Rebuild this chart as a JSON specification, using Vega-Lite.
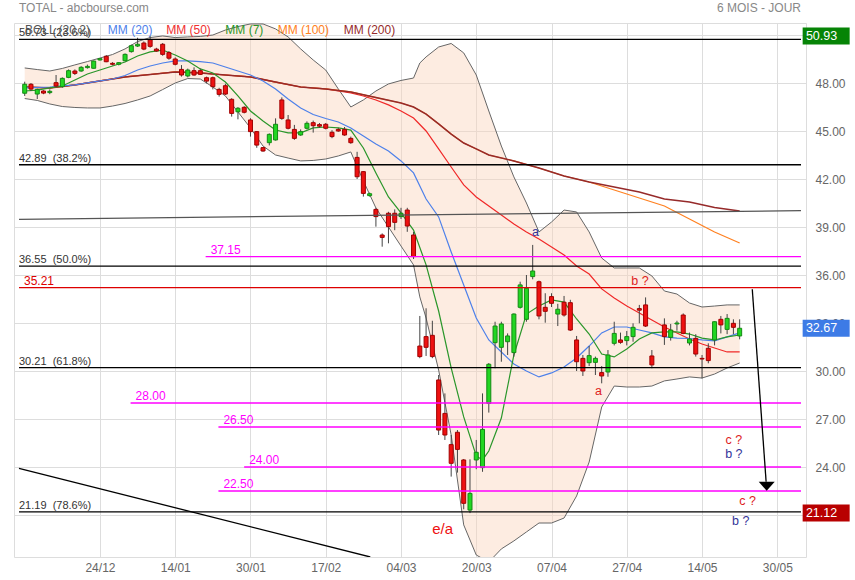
{
"$schema":"https://vega.github.io/schema/vega-lite/v6.json",
"width":792,"height":534,
"autosize":{"type":"none"},
"padding":{"left":14,"top":23,"right":49,"bottom":23},
"background":"white",
"config":{"view":{"stroke":"#dddddd","strokeWidth":1},
"axis":{"gridColor":"#dddddd","gridWidth":1,"domain":false,"ticks":false,"labelFont":"Liberation Sans","labelFontSize":12,"labelColor":"#666666"},
"text":{"font":"Liberation Sans"}},
"datasets":{
"bb":[{"i":-12,"up":48.94,"lo":47.03},{"i":-10,"up":48.84,"lo":46.91},{"i":-8,"up":48.75,"lo":46.69},{"i":-6,"up":48.91,"lo":46.53},{"i":-4,"up":49.13,"lo":46.47},{"i":-2,"up":49.34,"lo":46.44},{"i":0,"up":49.56,"lo":46.44},{"i":2,"up":49.78,"lo":46.56},{"i":4,"up":50.13,"lo":46.72},{"i":6,"up":50.59,"lo":46.94},{"i":8,"up":50.84,"lo":47.19},{"i":10,"up":50.94,"lo":47.59},{"i":12,"up":50.84,"lo":48.0},{"i":14,"up":50.88,"lo":48.28},{"i":16,"up":50.91,"lo":48.25},{"i":18,"up":51.0,"lo":47.75},{"i":20,"up":51.31,"lo":47.19},{"i":22,"up":51.53,"lo":46.19},{"i":24,"up":51.69,"lo":45.19},{"i":26,"up":51.69,"lo":44.06},{"i":28,"up":51.38,"lo":43.5},{"i":30,"up":50.88,"lo":43.31},{"i":32,"up":50.13,"lo":43.13},{"i":34,"up":49.44,"lo":43.16},{"i":36,"up":48.81,"lo":43.25},{"i":38,"up":47.63,"lo":43.44},{"i":40,"up":46.5,"lo":43.69},{"i":42,"up":46.94,"lo":41.88},{"i":44,"up":47.5,"lo":40.19},{"i":46,"up":47.94,"lo":39.0},{"i":48,"up":48.16,"lo":37.81},{"i":50,"up":48.31,"lo":36.63},{"i":51,"up":49.25,"lo":34.63},{"i":52,"up":49.63,"lo":33.31},{"i":54,"up":50.25,"lo":30.06},{"i":56,"up":50.47,"lo":26.0},{"i":58,"up":49.88,"lo":20.38},{"i":60,"up":48.5,"lo":18.5},{"i":62,"up":46.25,"lo":18.06},{"i":64,"up":44.06,"lo":18.88},{"i":66,"up":42.13,"lo":19.38},{"i":68,"up":40.5,"lo":19.94},{"i":70,"up":38.69,"lo":20.5},{"i":72,"up":39.31,"lo":20.5},{"i":74,"up":40.06,"lo":20.81},{"i":76,"up":39.94,"lo":22.19},{"i":78,"up":38.69,"lo":24.31},{"i":80,"up":37.06,"lo":27.75},{"i":82,"up":36.44,"lo":29.06},{"i":84,"up":36.44,"lo":29.0},{"i":86,"up":36.44,"lo":29.0},{"i":88,"up":35.94,"lo":29.06},{"i":90,"up":35.0,"lo":29.38},{"i":92,"up":34.81,"lo":29.5},{"i":94,"up":34.25,"lo":29.63},{"i":96,"up":34.0,"lo":29.56},{"i":98,"up":34.06,"lo":29.81},{"i":100,"up":34.13,"lo":30.19},{"i":102,"up":34.13,"lo":30.5}],
"ma":[
{"g":"mm20","i":-12,"v":47.69},{"g":"mm20","i":-8,"v":47.75},{"g":"mm20","i":-4,"v":47.88},{"g":"mm20","i":0,"v":48.13},{"g":"mm20","i":2,"v":48.25},{"g":"mm20","i":4,"v":48.47},{"g":"mm20","i":6,"v":48.81},{"g":"mm20","i":8,"v":49.06},{"g":"mm20","i":10,"v":49.25},{"g":"mm20","i":12,"v":49.38},{"g":"mm20","i":14,"v":49.38},{"g":"mm20","i":16,"v":49.34},{"g":"mm20","i":18,"v":49.25},{"g":"mm20","i":20,"v":49.0},{"g":"mm20","i":22,"v":48.75},{"g":"mm20","i":24,"v":48.5},{"g":"mm20","i":26,"v":48.13},{"g":"mm20","i":28,"v":47.63},{"g":"mm20","i":30,"v":47.0},{"g":"mm20","i":32,"v":46.44},{"g":"mm20","i":34,"v":46.03},{"g":"mm20","i":36,"v":45.78},{"g":"mm20","i":38,"v":45.56},{"g":"mm20","i":40,"v":45.19},{"g":"mm20","i":42,"v":44.69},{"g":"mm20","i":44,"v":44.19},{"g":"mm20","i":46,"v":43.75},{"g":"mm20","i":48,"v":43.13},{"g":"mm20","i":50,"v":42.38},{"g":"mm20","i":52,"v":40.75},{"g":"mm20","i":54,"v":39.63},{"g":"mm20","i":56,"v":37.44},{"g":"mm20","i":58,"v":35.38},{"g":"mm20","i":60,"v":33.31},{"g":"mm20","i":62,"v":31.94},{"g":"mm20","i":64,"v":31.19},{"g":"mm20","i":66,"v":30.44},{"g":"mm20","i":68,"v":30.0},{"g":"mm20","i":70,"v":29.63},{"g":"mm20","i":72,"v":29.88},{"g":"mm20","i":74,"v":30.25},{"g":"mm20","i":76,"v":30.81},{"g":"mm20","i":78,"v":31.56},{"g":"mm20","i":80,"v":32.38},{"g":"mm20","i":82,"v":32.75},{"g":"mm20","i":84,"v":32.75},{"g":"mm20","i":86,"v":32.56},{"g":"mm20","i":88,"v":32.38},{"g":"mm20","i":90,"v":32.13},{"g":"mm20","i":92,"v":32.06},{"g":"mm20","i":94,"v":32.03},{"g":"mm20","i":96,"v":31.94},{"g":"mm20","i":98,"v":31.88},{"g":"mm20","i":100,"v":32.13},{"g":"mm20","i":102,"v":32.38},
{"g":"mm7","i":-12,"v":47.5},{"g":"mm7","i":-10,"v":47.56},{"g":"mm7","i":-8,"v":47.69},{"g":"mm7","i":-6,"v":47.81},{"g":"mm7","i":-4,"v":48.19},{"g":"mm7","i":-2,"v":48.56},{"g":"mm7","i":0,"v":48.81},{"g":"mm7","i":2,"v":49.06},{"g":"mm7","i":4,"v":49.31},{"g":"mm7","i":6,"v":49.69},{"g":"mm7","i":8,"v":49.94},{"g":"mm7","i":10,"v":50.06},{"g":"mm7","i":12,"v":49.75},{"g":"mm7","i":14,"v":49.38},{"g":"mm7","i":16,"v":48.88},{"g":"mm7","i":18,"v":48.63},{"g":"mm7","i":20,"v":48.06},{"g":"mm7","i":22,"v":47.19},{"g":"mm7","i":24,"v":46.25},{"g":"mm7","i":26,"v":45.63},{"g":"mm7","i":28,"v":45.06},{"g":"mm7","i":30,"v":44.88},{"g":"mm7","i":32,"v":44.88},{"g":"mm7","i":34,"v":45.19},{"g":"mm7","i":36,"v":45.25},{"g":"mm7","i":38,"v":45.19},{"g":"mm7","i":40,"v":45.06},{"g":"mm7","i":42,"v":43.94},{"g":"mm7","i":44,"v":42.38},{"g":"mm7","i":46,"v":40.88},{"g":"mm7","i":48,"v":39.88},{"g":"mm7","i":50,"v":38.81},{"g":"mm7","i":52,"v":36.63},{"g":"mm7","i":54,"v":33.75},{"g":"mm7","i":56,"v":30.19},{"g":"mm7","i":58,"v":27.13},{"g":"mm7","i":60,"v":24.69},{"g":"mm7","i":61,"v":24.44},{"g":"mm7","i":62,"v":25.0},{"g":"mm7","i":64,"v":27.06},{"g":"mm7","i":66,"v":31.0},{"g":"mm7","i":68,"v":33.56},{"g":"mm7","i":70,"v":34.06},{"g":"mm7","i":72,"v":34.44},{"g":"mm7","i":74,"v":34.31},{"g":"mm7","i":76,"v":33.25},{"g":"mm7","i":78,"v":32.31},{"g":"mm7","i":80,"v":31.06},{"g":"mm7","i":82,"v":30.88},{"g":"mm7","i":84,"v":31.38},{"g":"mm7","i":86,"v":32.0},{"g":"mm7","i":88,"v":32.38},{"g":"mm7","i":90,"v":32.44},{"g":"mm7","i":92,"v":32.44},{"g":"mm7","i":94,"v":32.31},{"g":"mm7","i":96,"v":32.06},{"g":"mm7","i":98,"v":31.94},{"g":"mm7","i":100,"v":32.13},{"g":"mm7","i":102,"v":32.25},
{"g":"mm200","i":-12,"v":47.75},{"g":"mm200","i":-8,"v":47.69},{"g":"mm200","i":-4,"v":47.88},{"g":"mm200","i":0,"v":48.13},{"g":"mm200","i":4,"v":48.38},{"g":"mm200","i":8,"v":48.53},{"g":"mm200","i":12,"v":48.69},{"g":"mm200","i":16,"v":48.63},{"g":"mm200","i":20,"v":48.5},{"g":"mm200","i":24,"v":48.38},{"g":"mm200","i":28,"v":48.06},{"g":"mm200","i":32,"v":47.75},{"g":"mm200","i":36,"v":47.63},{"g":"mm200","i":40,"v":47.44},{"g":"mm200","i":44,"v":47.09},{"g":"mm200","i":48,"v":46.75},{"g":"mm200","i":50,"v":46.5},{"g":"mm200","i":52,"v":46.06},{"g":"mm200","i":54,"v":45.44},{"g":"mm200","i":56,"v":44.81},{"g":"mm200","i":58,"v":44.25},{"g":"mm200","i":60,"v":43.88},{"g":"mm200","i":62,"v":43.5},{"g":"mm200","i":66,"v":43.13},{"g":"mm200","i":70,"v":42.69},{"g":"mm200","i":74,"v":42.19},{"g":"mm200","i":78,"v":41.81},{"g":"mm200","i":82,"v":41.5},{"g":"mm200","i":86,"v":41.19},{"g":"mm200","i":90,"v":40.75},{"g":"mm200","i":94,"v":40.56},{"g":"mm200","i":98,"v":40.22},{"g":"mm200","i":102,"v":40.0},
{"g":"mm100","i":-12,"v":47.75},{"g":"mm100","i":-8,"v":47.69},{"g":"mm100","i":-4,"v":47.88},{"g":"mm100","i":0,"v":48.13},{"g":"mm100","i":4,"v":48.38},{"g":"mm100","i":8,"v":48.53},{"g":"mm100","i":12,"v":48.69},{"g":"mm100","i":16,"v":48.63},{"g":"mm100","i":20,"v":48.5},{"g":"mm100","i":24,"v":48.38},{"g":"mm100","i":28,"v":48.06},{"g":"mm100","i":32,"v":47.75},{"g":"mm100","i":36,"v":47.63},{"g":"mm100","i":40,"v":47.44},{"g":"mm100","i":44,"v":47.09},{"g":"mm100","i":48,"v":46.75},{"g":"mm100","i":50,"v":46.5},{"g":"mm100","i":52,"v":46.06},{"g":"mm100","i":54,"v":45.44},{"g":"mm100","i":56,"v":44.81},{"g":"mm100","i":58,"v":44.25},{"g":"mm100","i":60,"v":43.88},{"g":"mm100","i":62,"v":43.5},{"g":"mm100","i":66,"v":43.13},{"g":"mm100","i":70,"v":42.69},{"g":"mm100","i":74,"v":42.19},{"g":"mm100","i":78,"v":41.81},{"g":"mm100","i":82,"v":41.31},{"g":"mm100","i":86,"v":40.81},{"g":"mm100","i":90,"v":40.31},{"g":"mm100","i":94,"v":39.5},{"g":"mm100","i":98,"v":38.69},{"g":"mm100","i":102,"v":38.0},
{"g":"mm50","i":-12,"v":47.75},{"g":"mm50","i":-8,"v":47.69},{"g":"mm50","i":-4,"v":47.88},{"g":"mm50","i":0,"v":48.13},{"g":"mm50","i":4,"v":48.38},{"g":"mm50","i":8,"v":48.53},{"g":"mm50","i":12,"v":48.69},{"g":"mm50","i":16,"v":48.63},{"g":"mm50","i":20,"v":48.5},{"g":"mm50","i":24,"v":48.38},{"g":"mm50","i":28,"v":48.06},{"g":"mm50","i":32,"v":47.75},{"g":"mm50","i":36,"v":47.63},{"g":"mm50","i":38,"v":47.5},{"g":"mm50","i":40,"v":47.38},{"g":"mm50","i":42,"v":47.19},{"g":"mm50","i":44,"v":46.94},{"g":"mm50","i":46,"v":46.63},{"g":"mm50","i":48,"v":46.25},{"g":"mm50","i":50,"v":45.81},{"g":"mm50","i":52,"v":45.0},{"g":"mm50","i":54,"v":43.88},{"g":"mm50","i":56,"v":42.75},{"g":"mm50","i":58,"v":41.63},{"g":"mm50","i":60,"v":40.88},{"g":"mm50","i":62,"v":40.31},{"g":"mm50","i":64,"v":39.75},{"g":"mm50","i":66,"v":39.19},{"g":"mm50","i":68,"v":38.69},{"g":"mm50","i":70,"v":38.25},{"g":"mm50","i":72,"v":37.75},{"g":"mm50","i":74,"v":37.25},{"g":"mm50","i":76,"v":36.56},{"g":"mm50","i":78,"v":36.06},{"g":"mm50","i":80,"v":35.13},{"g":"mm50","i":82,"v":34.56},{"g":"mm50","i":84,"v":34.06},{"g":"mm50","i":86,"v":33.63},{"g":"mm50","i":88,"v":33.19},{"g":"mm50","i":90,"v":32.75},{"g":"mm50","i":92,"v":32.38},{"g":"mm50","i":94,"v":32.0},{"g":"mm50","i":96,"v":31.69},{"g":"mm50","i":98,"v":31.44},{"g":"mm50","i":100,"v":31.19},{"g":"mm50","i":102,"v":31.19}],
"cd":[{"i":-12,"o":47.36,"h":48.08,"l":47.19,"c":47.92},{"i":-11,"o":47.92,"h":48.0,"l":47.5,"c":47.62},{"i":-10,"o":47.31,"h":47.65,"l":47.0,"c":47.6},{"i":-9,"o":47.5,"h":47.55,"l":47.3,"c":47.37},{"i":-8,"o":47.4,"h":47.6,"l":47.3,"c":47.48},{"i":-7,"o":48.02,"h":48.5,"l":47.75,"c":47.81},{"i":-6,"o":47.77,"h":48.35,"l":47.7,"c":48.29},{"i":-5,"o":48.35,"h":48.85,"l":48.3,"c":48.77},{"i":-4,"o":48.75,"h":48.85,"l":48.5,"c":48.6},{"i":-3,"o":48.75,"h":49.05,"l":48.7,"c":48.98},{"i":-2,"o":48.96,"h":49.15,"l":48.9,"c":49.04},{"i":-1,"o":48.92,"h":49.4,"l":48.9,"c":49.37},{"i":0,"o":49.44,"h":49.55,"l":49.4,"c":49.52},{"i":1,"o":49.67,"h":49.75,"l":49.3,"c":49.33},{"i":2,"o":49.23,"h":49.3,"l":49.1,"c":49.17},{"i":3,"o":49.17,"h":49.3,"l":49.1,"c":49.27},{"i":4,"o":49.39,"h":49.85,"l":49.35,"c":49.79},{"i":5,"o":49.96,"h":50.4,"l":49.9,"c":50.33},{"i":6,"o":50.31,"h":50.83,"l":50.25,"c":50.42},{"i":7,"o":50.5,"h":50.6,"l":50.05,"c":50.12},{"i":8,"o":50.71,"h":50.93,"l":50.2,"c":50.29},{"i":9,"o":50.12,"h":50.2,"l":49.95,"c":50.0},{"i":10,"o":50.42,"h":50.5,"l":49.7,"c":49.79},{"i":11,"o":49.9,"h":50.0,"l":49.45,"c":49.55},{"i":12,"o":49.5,"h":49.6,"l":49.1,"c":49.17},{"i":13,"o":48.85,"h":49.12,"l":48.4,"c":48.5},{"i":14,"o":48.44,"h":48.9,"l":48.35,"c":48.81},{"i":15,"o":48.77,"h":48.98,"l":48.45,"c":48.5},{"i":16,"o":48.77,"h":48.9,"l":48.5,"c":48.54},{"i":17,"o":48.33,"h":48.4,"l":47.98,"c":48.12},{"i":18,"o":48.33,"h":48.4,"l":47.6,"c":47.77},{"i":19,"o":47.6,"h":47.7,"l":47.15,"c":47.29},{"i":20,"o":47.83,"h":47.95,"l":47.25,"c":47.31},{"i":21,"o":46.98,"h":47.05,"l":45.9,"c":46.1},{"i":22,"o":46.2,"h":46.5,"l":45.73,"c":46.42},{"i":23,"o":46.48,"h":46.55,"l":46.1,"c":46.17},{"i":24,"o":45.69,"h":45.8,"l":44.65,"c":44.96},{"i":25,"o":44.96,"h":45.0,"l":43.95,"c":44.12},{"i":26,"o":43.96,"h":44.0,"l":43.7,"c":43.75},{"i":27,"o":44.27,"h":44.85,"l":44.1,"c":44.79},{"i":28,"o":44.44,"h":45.79,"l":44.4,"c":45.42},{"i":29,"o":46.94,"h":47.1,"l":45.7,"c":45.79},{"i":30,"o":45.69,"h":46.0,"l":45.1,"c":45.17},{"i":31,"o":45.1,"h":45.38,"l":44.45,"c":44.54},{"i":32,"o":44.75,"h":45.1,"l":44.7,"c":44.96},{"i":33,"o":45.17,"h":45.6,"l":45.1,"c":45.48},{"i":34,"o":45.52,"h":45.65,"l":44.9,"c":45.33},{"i":35,"o":45.4,"h":45.5,"l":45.2,"c":45.3},{"i":36,"o":45.42,"h":45.5,"l":45.1,"c":45.17},{"i":37,"o":44.92,"h":45.05,"l":44.55,"c":44.65},{"i":38,"o":45.1,"h":45.2,"l":44.95,"c":45.0},{"i":39,"o":45.1,"h":45.25,"l":44.7,"c":44.75},{"i":40,"o":44.54,"h":44.65,"l":44.2,"c":44.27},{"i":41,"o":43.35,"h":43.7,"l":42.0,"c":42.14},{"i":42,"o":42.46,"h":42.5,"l":40.9,"c":41.1},{"i":43,"o":40.96,"h":41.15,"l":40.9,"c":41.08},{"i":44,"o":40.1,"h":40.2,"l":39.02,"c":39.65},{"i":45,"o":38.5,"h":38.6,"l":37.77,"c":38.35},{"i":46,"o":39.86,"h":39.95,"l":37.98,"c":39.02},{"i":47,"o":39.86,"h":40.1,"l":38.8,"c":39.29},{"i":48,"o":39.65,"h":40.2,"l":39.5,"c":39.86},{"i":49,"o":40.06,"h":40.2,"l":38.7,"c":39.06},{"i":50,"o":38.5,"h":38.7,"l":37.0,"c":37.15},{"i":51,"o":31.56,"h":33.44,"l":30.8,"c":30.9},{"i":52,"o":32.15,"h":33.92,"l":30.94,"c":31.48},{"i":53,"o":32.23,"h":33.14,"l":30.8,"c":30.9},{"i":54,"o":29.44,"h":29.75,"l":26.0,"c":26.31},{"i":55,"o":27.35,"h":28.6,"l":25.69,"c":26.0},{"i":56,"o":25.4,"h":26.0,"l":23.4,"c":24.23},{"i":57,"o":26.17,"h":26.31,"l":23.65,"c":25.1},{"i":58,"o":24.44,"h":24.5,"l":21.36,"c":21.73},{"i":59,"o":21.31,"h":24.48,"l":21.12,"c":22.35},{"i":60,"o":24.44,"h":25.69,"l":23.86,"c":24.92},{"i":61,"o":23.96,"h":28.6,"l":23.7,"c":26.35},{"i":62,"o":27.98,"h":30.5,"l":27.4,"c":30.42},{"i":63,"o":31.77,"h":33.08,"l":30.17,"c":32.81},{"i":64,"o":31.48,"h":33.08,"l":30.58,"c":32.94},{"i":65,"o":31.83,"h":32.35,"l":31.0,"c":32.19},{"i":66,"o":31.15,"h":33.6,"l":30.9,"c":33.56},{"i":67,"o":33.98,"h":35.58,"l":33.9,"c":35.38},{"i":68,"o":33.23,"h":36.0,"l":33.08,"c":35.17},{"i":69,"o":35.9,"h":37.88,"l":35.73,"c":36.25},{"i":70,"o":35.58,"h":35.65,"l":33.23,"c":33.44},{"i":71,"o":33.98,"h":34.86,"l":33.02,"c":33.73},{"i":72,"o":34.65,"h":34.86,"l":34.0,"c":34.23},{"i":73,"o":33.56,"h":34.2,"l":32.81,"c":33.86},{"i":74,"o":34.3,"h":34.69,"l":33.4,"c":33.5},{"i":75,"o":34.27,"h":34.45,"l":32.5,"c":32.56},{"i":76,"o":31.94,"h":32.19,"l":30.0,"c":30.58},{"i":77,"o":30.79,"h":31.0,"l":29.69,"c":30.0},{"i":78,"o":30.52,"h":31.56,"l":30.31,"c":30.96},{"i":79,"o":30.54,"h":30.9,"l":29.75,"c":30.79},{"i":80,"o":29.9,"h":30.31,"l":29.23,"c":29.69},{"i":81,"o":29.94,"h":31.31,"l":29.64,"c":31.0},{"i":82,"o":31.73,"h":33.08,"l":31.6,"c":32.35},{"i":83,"o":31.94,"h":32.4,"l":31.7,"c":31.79},{"i":84,"o":31.9,"h":32.5,"l":31.6,"c":32.15},{"i":85,"o":32.15,"h":32.98,"l":31.83,"c":32.73},{"i":86,"o":33.9,"h":34.13,"l":32.98,"c":33.8},{"i":87,"o":34.13,"h":34.6,"l":32.75,"c":32.81},{"i":88,"o":30.94,"h":31.31,"l":30.17,"c":30.38},{"i":90,"o":32.88,"h":33.29,"l":31.63,"c":32.15},{"i":91,"o":32.1,"h":32.94,"l":31.9,"c":32.56},{"i":92,"o":32.94,"h":33.14,"l":32.52,"c":33.0},{"i":93,"o":33.5,"h":33.6,"l":32.3,"c":32.35},{"i":94,"o":31.75,"h":32.4,"l":31.6,"c":32.0},{"i":95,"o":32.04,"h":32.3,"l":30.9,"c":31.06},{"i":96,"o":30.79,"h":31.0,"l":29.54,"c":30.75},{"i":97,"o":31.42,"h":31.73,"l":30.48,"c":30.65},{"i":98,"o":31.94,"h":33.1,"l":31.6,"c":33.08},{"i":99,"o":33.23,"h":33.44,"l":32.35,"c":32.88},{"i":100,"o":32.6,"h":33.56,"l":32.3,"c":33.29},{"i":101,"o":32.98,"h":33.23,"l":32.3,"c":32.73},{"i":102,"o":32.19,"h":33.23,"l":31.98,"c":32.67}],
"hl":[{"g":"fib","v":50.73,"x0":-12.91,"lab":"50.73\u00a0 (23.6%)"},{"g":"fib","v":42.89,"x0":-12.91,"lab":"42.89\u00a0 (38.2%)"},{"g":"fib","v":36.55,"x0":-12.91,"lab":"36.55\u00a0 (50.0%)"},{"g":"fib","v":30.21,"x0":-12.91,"lab":"30.21\u00a0 (61.8%)"},{"g":"fib","v":21.19,"x0":-12.91,"lab":"21.19\u00a0 (78.6%)"},{"g":"res","v":35.21,"x0":-12.91,"lab":"35.21"},{"g":"mag","v":37.15,"x0":16.85,"lab":"37.15"},{"g":"mag","v":28.0,"x0":4.88,"lab":"28.00"},{"g":"mag","v":26.5,"x0":18.89,"lab":"26.50"},{"g":"mag","v":24.0,"x0":22.99,"lab":"24.00"},{"g":"mag","v":22.5,"x0":18.89,"lab":"22.50"}],
"tl":[{"k":"h","g":"gry","i":-12.91,"v":39.48},{"k":"h","g":"gry","i":111.78,"v":40.02},{"k":"d","g":"fib","i":-12.91,"v":23.92},{"k":"d","g":"fib","i":43.1,"v":18.375},{"k":"a","g":"fib","i":104.01,"v":35.11},{"k":"a","g":"fib","i":106.22,"v":23.08},{"k":"tip","g":"fib","i":106.31,"v":22.8}],
"tx":[{"t":"leg","g":"ttl","i":-12.91,"v":52.67,"lab":"TOTAL - abcbourse.com"},{"t":"rt","g":"ttl","i":111.78,"v":52.67,"lab":"6 MOIS - JOUR"},{"t":"leg","g":"boll","i":-11.96,"v":51.31,"lab":"BOLL (20,2)"},{"t":"leg","g":"mm20","i":1.26,"v":51.31,"lab":"MM (20)"},{"t":"leg","g":"mm50","i":10.55,"v":51.31,"lab":"MM (50)"},{"t":"leg","g":"mm7","i":19.99,"v":51.31,"lab":"MM (7)"},{"t":"leg","g":"mm100","i":28.34,"v":51.31,"lab":"MM (100)"},{"t":"leg","g":"mm200","i":38.89,"v":51.31,"lab":"MM (200)"},{"t":"ann","g":"ab","i":69.43,"v":38.69,"lab":"a"},{"t":"ann","g":"ar","i":86.1,"v":35.63,"lab":"b ?"},{"t":"ann","g":"ar","i":79.5,"v":28.75,"lab":"a"},{"t":"ea","g":"ea","i":54.63,"v":20.13,"lab":"e/a"},{"t":"ann","g":"ar","i":101.07,"v":25.69,"lab":"c ?"},{"t":"ann","g":"ab","i":101.07,"v":24.81,"lab":"b ?"},{"t":"ann","g":"ar","i":103.27,"v":21.89,"lab":"c ?"},{"t":"ann","g":"ab","i":102.17,"v":20.64,"lab":"b ?"}],
"bx":[{"g":"bxg","v":50.93,"lab":"50.93"},{"g":"bxb","v":32.67,"lab":"32.67"},{"g":"bxr","v":21.12,"lab":"21.12"}]
},
"layer":[
{"data":{"name":"bb"},"mark":{"type":"area","color":"#fbd5bd","opacity":0.45,"clip":true},
"encoding":{"x":{"field":"i","type":"quantitative","title":null,"scale":{"domain":[-12.91,111.78],"nice":false,"zero":false},"axis":{"values":[0,12,24,36,48,60,72,84,96,108],"labelExpr":"['24/12','14/01','30/01','17/02','04/03','20/03','07/04','27/04','14/05','30/05'][round(datum.value/12)]","grid":true,"labelPadding":5}},
"y":{"field":"up","type":"quantitative","title":null,"scale":{"domain":[18.375,51.75],"nice":false,"zero":false},"axis":{"orient":"right","values":[21,24,27,30,33,36,39,42,45,48,51],"format":".2f","grid":true,"labelPadding":9}},"y2":{"field":"lo"}}},
{"data":{"name":"bb"},"mark":{"type":"line","color":"#666666","strokeWidth":1,"clip":true},
"encoding":{"x":{"field":"i","type":"quantitative","title":null,"scale":{"domain":[-12.91,111.78],"nice":false,"zero":false}},"y":{"field":"up","type":"quantitative","title":null,"scale":{"domain":[18.375,51.75],"nice":false,"zero":false}}}},
{"data":{"name":"bb"},"mark":{"type":"line","color":"#666666","strokeWidth":1,"clip":true},
"encoding":{"x":{"field":"i","type":"quantitative","title":null,"scale":{"domain":[-12.91,111.78],"nice":false,"zero":false}},"y":{"field":"lo","type":"quantitative","title":null,"scale":{"domain":[18.375,51.75],"nice":false,"zero":false}}}},
{"data":{"name":"ma"},"transform":[{"filter":"datum.g=='mm50'"}],"mark":{"type":"line","color":"#f02828","strokeWidth":1.2},
"encoding":{"x":{"field":"i","type":"quantitative","title":null,"scale":{"domain":[-12.91,111.78],"nice":false,"zero":false}},"y":{"field":"v","type":"quantitative","title":null,"scale":{"domain":[18.375,51.75],"nice":false,"zero":false}}}},
{"data":{"name":"ma"},"transform":[{"filter":"datum.g=='mm100'"}],"mark":{"type":"line","color":"#ff8020","strokeWidth":1.2},
"encoding":{"x":{"field":"i","type":"quantitative","title":null,"scale":{"domain":[-12.91,111.78],"nice":false,"zero":false}},"y":{"field":"v","type":"quantitative","title":null,"scale":{"domain":[18.375,51.75],"nice":false,"zero":false}}}},
{"data":{"name":"ma"},"transform":[{"filter":"datum.g=='mm200'"}],"mark":{"type":"line","color":"#962a2a","strokeWidth":1.5},
"encoding":{"x":{"field":"i","type":"quantitative","title":null,"scale":{"domain":[-12.91,111.78],"nice":false,"zero":false}},"y":{"field":"v","type":"quantitative","title":null,"scale":{"domain":[18.375,51.75],"nice":false,"zero":false}}}},
{"data":{"name":"ma"},"transform":[{"filter":"datum.g=='mm20'"}],"mark":{"type":"line","color":"#4d80ea","strokeWidth":1.2},
"encoding":{"x":{"field":"i","type":"quantitative","title":null,"scale":{"domain":[-12.91,111.78],"nice":false,"zero":false}},"y":{"field":"v","type":"quantitative","title":null,"scale":{"domain":[18.375,51.75],"nice":false,"zero":false}}}},
{"data":{"name":"ma"},"transform":[{"filter":"datum.g=='mm7'"}],"mark":{"type":"line","color":"#2a962a","strokeWidth":1.2},
"encoding":{"x":{"field":"i","type":"quantitative","title":null,"scale":{"domain":[-12.91,111.78],"nice":false,"zero":false}},"y":{"field":"v","type":"quantitative","title":null,"scale":{"domain":[18.375,51.75],"nice":false,"zero":false}}}},
{"data":{"name":"cd"},"mark":{"type":"rule","color":"#444444","strokeWidth":1},
"encoding":{"x":{"field":"i","type":"quantitative","title":null,"scale":{"domain":[-12.91,111.78],"nice":false,"zero":false}},"y":{"field":"l","type":"quantitative","title":null,"scale":{"domain":[18.375,51.75],"nice":false,"zero":false}},"y2":{"field":"h"}}},
{"data":{"name":"cd"},"mark":{"type":"bar","size":4,"strokeWidth":1,"orient":"vertical"},
"encoding":{"x":{"field":"i","type":"quantitative","title":null,"scale":{"domain":[-12.91,111.78],"nice":false,"zero":false}},"y":{"field":"o","type":"quantitative","title":null,"scale":{"domain":[18.375,51.75],"nice":false,"zero":false}},"y2":{"field":"c"},
"fill":{"condition":{"test":"datum.c >= datum.o","value":"#22d622"},"value":"#ee1111"},
"stroke":{"condition":{"test":"datum.c >= datum.o","value":"#138a13"},"value":"#a00000"}}},
{"data":{"name":"hl"},"mark":{"type":"rule","strokeWidth":1.3},
"encoding":{"x":{"field":"x0","type":"quantitative","title":null,"scale":{"domain":[-12.91,111.78],"nice":false,"zero":false}},"x2":{"datum":111.78},"y":{"field":"v","type":"quantitative","title":null,"scale":{"domain":[18.375,51.75],"nice":false,"zero":false}},
"color":{"field":"g","type":"nominal","legend":null,"scale":{"domain":["fib","res","mag","gry","boll","mm20","mm50","mm7","mm100","mm200","ttl","ab","ar","ea","bxg","bxb","bxr"],"range":["#000000","#dd0000","#ff00ff","#555555","#555555","#4d80ea","#f03030","#2a962a","#ff8020","#962a2a","#888888","#333399","#dd2222","#ee1111","#068406","#3d7be6","#b80000"]}}}},
{"data":{"name":"tl"},"transform":[{"filter":"datum.k!='tip'"}],"mark":{"type":"line","strokeWidth":1.3,"clip":true},
"encoding":{"x":{"field":"i","type":"quantitative","title":null,"scale":{"domain":[-12.91,111.78],"nice":false,"zero":false}},"y":{"field":"v","type":"quantitative","title":null,"scale":{"domain":[18.375,51.75],"nice":false,"zero":false}},"detail":{"field":"k"},
"color":{"field":"g","type":"nominal","legend":null,"scale":{"domain":["fib","res","mag","gry","boll","mm20","mm50","mm7","mm100","mm200","ttl","ab","ar","ea","bxg","bxb","bxr"],"range":["#000000","#dd0000","#ff00ff","#555555","#555555","#4d80ea","#f03030","#2a962a","#ff8020","#962a2a","#888888","#333399","#dd2222","#ee1111","#068406","#3d7be6","#b80000"]}}}},
{"data":{"name":"tl"},"transform":[{"filter":"datum.k=='tip'"}],"mark":{"type":"point","shape":"M-1,-0.56L1,-0.56L0,0.56Z","size":256,"filled":true,"color":"#000000","opacity":1},
"encoding":{"x":{"field":"i","type":"quantitative","title":null,"scale":{"domain":[-12.91,111.78],"nice":false,"zero":false}},"y":{"field":"v","type":"quantitative","title":null,"scale":{"domain":[18.375,51.75],"nice":false,"zero":false}}}},
{"data":{"name":"hl"},"transform":[{"filter":"datum.g=='fib'"}],"mark":{"type":"text","align":"left","baseline":"alphabetic","dy":-3,"fontSize":11,"color":"#333333"},
"encoding":{"x":{"field":"x0","type":"quantitative","title":null,"scale":{"domain":[-12.91,111.78],"nice":false,"zero":false}},"y":{"field":"v","type":"quantitative","title":null,"scale":{"domain":[18.375,51.75],"nice":false,"zero":false}},"text":{"field":"lab"}}},
{"data":{"name":"hl"},"transform":[{"filter":"datum.g!='fib'"}],"mark":{"type":"text","align":"left","baseline":"alphabetic","dx":5,"dy":-3,"fontSize":12},
"encoding":{"x":{"field":"x0","type":"quantitative","title":null,"scale":{"domain":[-12.91,111.78],"nice":false,"zero":false}},"y":{"field":"v","type":"quantitative","title":null,"scale":{"domain":[18.375,51.75],"nice":false,"zero":false}},"text":{"field":"lab"},
"color":{"field":"g","type":"nominal","legend":null,"scale":{"domain":["fib","res","mag","gry","boll","mm20","mm50","mm7","mm100","mm200","ttl","ab","ar","ea","bxg","bxb","bxr"],"range":["#000000","#dd0000","#ff00ff","#555555","#555555","#4d80ea","#f03030","#2a962a","#ff8020","#962a2a","#888888","#333399","#dd2222","#ee1111","#068406","#3d7be6","#b80000"]}}}},
{"data":{"name":"tx"},"transform":[{"filter":"datum.t=='leg'"}],"mark":{"type":"text","align":"left","baseline":"middle","fontSize":12},
"encoding":{"x":{"field":"i","type":"quantitative","title":null,"scale":{"domain":[-12.91,111.78],"nice":false,"zero":false}},"y":{"field":"v","type":"quantitative","title":null,"scale":{"domain":[18.375,51.75],"nice":false,"zero":false}},"text":{"field":"lab"},
"color":{"field":"g","type":"nominal","legend":null,"scale":{"domain":["fib","res","mag","gry","boll","mm20","mm50","mm7","mm100","mm200","ttl","ab","ar","ea","bxg","bxb","bxr"],"range":["#000000","#dd0000","#ff00ff","#555555","#555555","#4d80ea","#f03030","#2a962a","#ff8020","#962a2a","#888888","#333399","#dd2222","#ee1111","#068406","#3d7be6","#b80000"]}}}},
{"data":{"name":"tx"},"transform":[{"filter":"datum.t=='rt'"}],"mark":{"type":"text","align":"right","baseline":"middle","fontSize":12,"color":"#888888"},
"encoding":{"x":{"field":"i","type":"quantitative","title":null,"scale":{"domain":[-12.91,111.78],"nice":false,"zero":false}},"y":{"field":"v","type":"quantitative","title":null,"scale":{"domain":[18.375,51.75],"nice":false,"zero":false}},"text":{"field":"lab"}}},
{"data":{"name":"tx"},"transform":[{"filter":"datum.t=='ann'"}],"mark":{"type":"text","align":"center","baseline":"middle","fontSize":12.5},
"encoding":{"x":{"field":"i","type":"quantitative","title":null,"scale":{"domain":[-12.91,111.78],"nice":false,"zero":false}},"y":{"field":"v","type":"quantitative","title":null,"scale":{"domain":[18.375,51.75],"nice":false,"zero":false}},"text":{"field":"lab"},
"color":{"field":"g","type":"nominal","legend":null,"scale":{"domain":["fib","res","mag","gry","boll","mm20","mm50","mm7","mm100","mm200","ttl","ab","ar","ea","bxg","bxb","bxr"],"range":["#000000","#dd0000","#ff00ff","#555555","#555555","#4d80ea","#f03030","#2a962a","#ff8020","#962a2a","#888888","#333399","#dd2222","#ee1111","#068406","#3d7be6","#b80000"]}}}},
{"data":{"name":"tx"},"transform":[{"filter":"datum.t=='ea'"}],"mark":{"type":"text","align":"center","baseline":"middle","fontSize":15,"color":"#ee1111"},
"encoding":{"x":{"field":"i","type":"quantitative","title":null,"scale":{"domain":[-12.91,111.78],"nice":false,"zero":false}},"y":{"field":"v","type":"quantitative","title":null,"scale":{"domain":[18.375,51.75],"nice":false,"zero":false}},"text":{"field":"lab"}}},
{"data":{"name":"bx"},"mark":{"type":"tick","orient":"horizontal","size":47,"thickness":17,"opacity":1,"clip":false},
"encoding":{"x":{"datum":115.79,"type":"quantitative","scale":{"domain":[-12.91,111.78],"nice":false,"zero":false}},"y":{"field":"v","type":"quantitative","title":null,"scale":{"domain":[18.375,51.75],"nice":false,"zero":false}},
"color":{"field":"g","type":"nominal","legend":null,"scale":{"domain":["fib","res","mag","gry","boll","mm20","mm50","mm7","mm100","mm200","ttl","ab","ar","ea","bxg","bxb","bxr"],"range":["#000000","#dd0000","#ff00ff","#555555","#555555","#4d80ea","#f03030","#2a962a","#ff8020","#962a2a","#888888","#333399","#dd2222","#ee1111","#068406","#3d7be6","#b80000"]}}}},
{"data":{"name":"bx"},"mark":{"type":"text","align":"left","baseline":"middle","fontSize":12.5,"color":"#ffffff"},
"encoding":{"x":{"datum":112.56,"type":"quantitative","scale":{"domain":[-12.91,111.78],"nice":false,"zero":false}},"y":{"field":"v","type":"quantitative","title":null,"scale":{"domain":[18.375,51.75],"nice":false,"zero":false}},"text":{"field":"lab"}}}
]
}
